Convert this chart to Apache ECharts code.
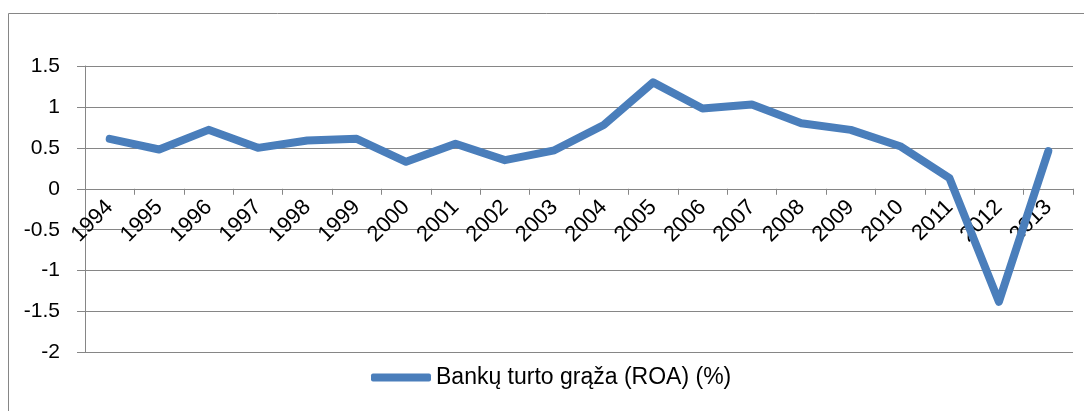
<!DOCTYPE html>
<html>
<head>
<meta charset="utf-8">
<script src="https://cdn.jsdelivr.net/npm/echarts@6/dist/echarts.min.js"></script>
<style>
html,body{margin:0;padding:0;background:#fff;}
#chart{width:1084px;height:411px;}
</style>
</head>
<body>
<div id="chart"></div>
<script>
const years = ['1994','1995','1996','1997','1998','1999','2000','2001','2002','2003','2004','2005','2006','2007','2008','2009','2010','2011','2012','2013'];
const roa = [0.61,0.48,0.72,0.50,0.59,0.61,0.33,0.55,0.35,0.47,0.78,1.30,0.98,1.03,0.80,0.72,0.52,0.13,-1.38,0.46];
const seriesName = 'Bankų turto grąža (ROA) (%)';
const yMin = -2, yMax = 1.5, yStep = 0.5;

const FONT = '"Liberation Sans", Arial, sans-serif';
const GRAY = '#868686';

const H = 411, GRID_TOP = 66, GRID_BOTTOM = 58.5;
const gridH = H - GRID_TOP - GRID_BOTTOM;
// move the category axis (line, ticks, labels) up to the zero line
const zeroOffset = -gridH * (0 - yMin) / (yMax - yMin);

const chart = echarts.init(document.getElementById('chart'), null, {renderer: 'canvas'});
chart.setOption({
  animation: false,
  backgroundColor: '#fff',
  graphic: [{
    type: 'rect',
    shape: {x: 8.5, y: 13.5, width: 1200, height: 600},
    style: {fill: 'none', stroke: GRAY, lineWidth: 1},
    silent: true, z: -1
  }],
  grid: {left: 85, right: 11, top: GRID_TOP, bottom: GRID_BOTTOM, containLabel: false},
  legend: {
    show: true,
    left: 371,
    top: 366,
    padding: 0,
    itemWidth: 60,
    itemHeight: 8,
    icon: 'roundRect',
    textStyle: {fontFamily: FONT, fontSize: 23, color: '#000'},
    data: [seriesName]
  },
  xAxis: {
    type: 'category',
    data: years,
    boundaryGap: true,
    position: 'bottom',
    offset: zeroOffset,
    axisLine: {show: true, onZero: false, lineStyle: {color: GRAY, width: 1}},
    axisTick: {show: true, length: 6, alignWithLabel: false, lineStyle: {color: GRAY, width: 1}},
    axisLabel: {rotate: 45, margin: 15, interval: 0, fontFamily: FONT, fontSize: 22, color: '#000'},
    splitLine: {show: false}
  },
  yAxis: {
    type: 'value',
    min: yMin, max: yMax, interval: yStep,
    axisLine: {show: true, lineStyle: {color: GRAY, width: 1}},
    axisTick: {show: true, length: 8, lineStyle: {color: GRAY, width: 1}},
    axisLabel: {margin: 25, fontFamily: FONT, fontSize: 21, color: '#000', formatter: v => String(v)},
    splitLine: {show: true, lineStyle: {color: GRAY, width: 1}}
  },
  series: [{
    name: seriesName,
    type: 'line',
    data: roa,
    symbol: 'none',
    color: '#4A7EBB',
    lineStyle: {color: '#4A7EBB', width: 8, cap: 'round', join: 'round'}
  }]
});
</script>
</body>
</html>
